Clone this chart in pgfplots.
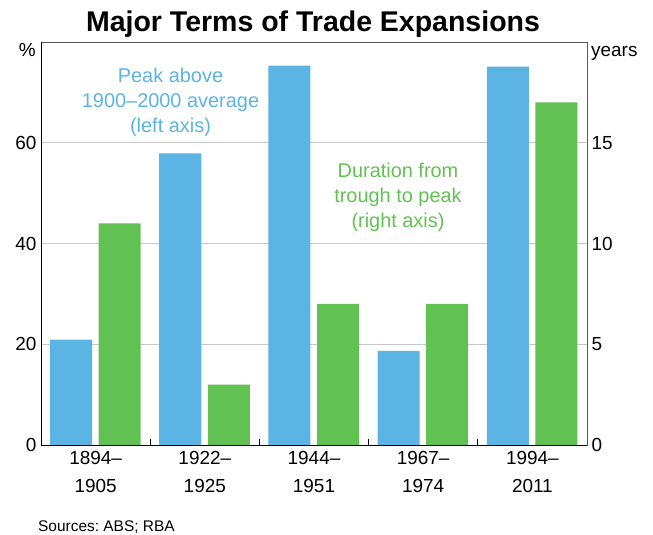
\documentclass[border=0pt]{standalone}
\usepackage{fontspec}
\setmainfont{Liberation Sans}
\usepackage{pgfplots}
\pgfplotsset{compat=1.18}
\definecolor{rbablue}{RGB}{91,180,227}
\definecolor{rbagreen}{RGB}{97,193,83}
\definecolor{gridgray}{RGB}{200,200,200}
\definecolor{framegray}{RGB}{90,90,90}
\frenchspacing
\begin{document}
\begin{tikzpicture}
\useasboundingbox (0bp,0bp) rectangle (653bp,535bp);
\pgfplotsset{
  common/.style={
    at={(41bp,90bp)}, anchor=south west,
    scale only axis, width=546bp, height=403bp,
    xmin=-0.5, xmax=4.5,
    ymin=0,
    /pgf/number format/assume math mode=true,
    ticklabel style={font=\fontsize{19}{24}\selectfont},
    ybar, bar width=0.385,
  }
}
\begin{axis}[common,
  ymax=80,
  ytick={0,20,40,60},
  ymajorgrids, grid style={gridgray, line width=0.8bp},
  axis line style={framegray, line width=0.8bp},
  major tick length=0pt,
  xtick={0,1,2,3,4},
  xticklabels={{1894–\\[4bp]1905},{1922–\\[4bp]1925},{1944–\\[4bp]1951},{1967–\\[4bp]1974},{1994–\\[4bp]2011}},
  xticklabel style={align=center, yshift=-3bp},
  extra x ticks={0.5,1.5,2.5,3.5},
  extra x tick labels={},
  extra x tick style={major tick length=6bp, tick style={black, line width=0.8bp}, tick align=inside, xtick pos=bottom, grid=none},
  ytick pos=left, xtick pos=bottom,
  yticklabel style={xshift=-1bp},
  bar shift=-0.225,
  after end axis/.code={
    \draw[black, line width=0.8bp] (rel axis cs:0,1) -- (rel axis cs:0,0) -- (rel axis cs:1,0);
  },
]
\addplot[fill=rbablue, draw=none] coordinates {(0,20.9) (1,57.9) (2,75.3) (3,18.7) (4,75.1)};
\end{axis}
\begin{axis}[common,
  ymax=20,
  ytick={0,5,10,15},
  axis y line*=right,
  axis x line=none,
  axis line style={draw=none},
  major tick length=0pt,
  yticklabel style={xshift=1bp},
  bar shift=0.22,
]
\addplot[fill=rbagreen, draw=none] coordinates {(0,11) (1,3) (2,7) (3,7) (4,17)};
\end{axis}
\node[anchor=base, font=\fontsize{28.6}{32}\selectfont\bfseries] at (313bp,503bp) {Major Terms of Trade Expansions};
\node[anchor=base east, font=\fontsize{19}{24}\selectfont, inner sep=0pt] at (36bp,478bp) {\%};
\node[anchor=base west, font=\fontsize{19}{24}\selectfont, inner sep=0pt] at (591bp,478bp) {years};
\node[anchor=base west, font=\fontsize{15.5}{18}\selectfont, inner sep=0pt] at (38bp,4bp) {Sources: ABS; RBA};
\node[align=center, text=rbablue, font=\fontsize{20}{25}\selectfont] at (170.5bp,433bp) {Peak above\\1900–2000 average\\(left axis)};
\node[align=center, text=rbagreen, font=\fontsize{20}{25}\selectfont] at (398bp,338bp) {Duration from\\trough to peak\\(right axis)};
\end{tikzpicture}
\end{document}
